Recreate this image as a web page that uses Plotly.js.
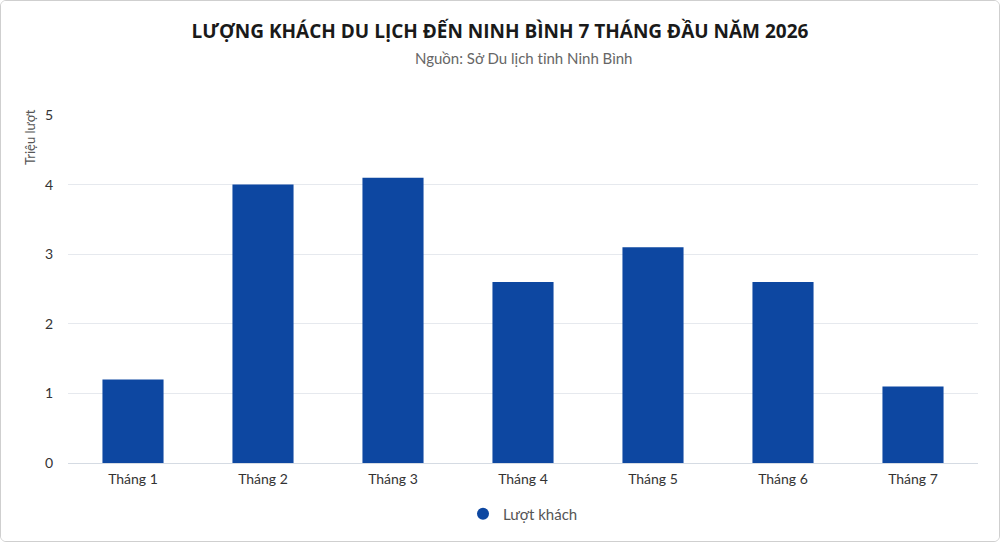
<!DOCTYPE html>
<html>
<head>
<meta charset="utf-8">
<script src="https://cdn.plot.ly/plotly-3.0.1.min.js"></script>
<style>
  html, body { margin: 0; padding: 0; background: #fff; }
  #frame { position: absolute; left: 0; top: 0; width: 1000px; height: 542px; box-sizing: border-box;
           border: 1px solid #cfcfcf; border-radius: 6px; overflow: hidden; }
  #chart { width: 998px; height: 540px; }
</style>
</head>
<body>
<div id="frame"><div id="chart"></div></div>
<script>
const categories = ["Tháng 1", "Tháng 2", "Tháng 3", "Tháng 4", "Tháng 5", "Tháng 6", "Tháng 7"];
const visitors = [1.2, 4.0, 4.1, 2.6, 3.1, 2.6, 1.1];
const yTicks = [0, 1, 2, 3, 4, 5];
const seriesName = "Lượt khách";
const titleText = "LƯỢNG KHÁCH DU LỊCH ĐẾN NINH BÌNH 7 THÁNG ĐẦU NĂM 2026";
const subtitleText = "Nguồn: Sở Du lịch tỉnh Ninh Bình";
const yTitleText = "Triệu lượt";

const barColor = "#0d47a1";
const fontFam = "Lato, 'Open Sans', sans-serif";

const traces = [
  {
    type: "bar",
    x: categories,
    y: visitors,
    marker: { color: barColor },
    width: 0.47,
    showlegend: false,
    hoverinfo: "x+y"
  },
  {
    type: "scatter",
    mode: "markers",
    x: [null],
    y: [null],
    name: seriesName,
    marker: { color: barColor, symbol: "circle", size: 11 },
    showlegend: true
  }
];

const layout = {
  width: 998,
  height: 540,
  margin: { l: 67, r: 21, t: 114, b: 78, autoexpand: false },
  paper_bgcolor: "#ffffff",
  plot_bgcolor: "#ffffff",
  font: { family: fontFam, color: "#333", size: 13 },
  title: {
    text: titleText,
    x: 0.5, xanchor: "center",
    y: 0.943, yanchor: "middle",
    font: { family: "'Open Sans', sans-serif", size: 19, color: "#1a1a1a", weight: 700 }
  },
  xaxis: {
    type: "category",
    showgrid: false,
    showline: true,
    linecolor: "#d5dbe3",
    linewidth: 1,
    ticks: "",
    ticklabelstandoff: 3,
    tickfont: { family: fontFam, size: 14, color: "#333" },
    fixedrange: true
  },
  yaxis: {
    range: [0, 5],
    tickvals: yTicks,
    showgrid: true,
    gridcolor: "#e6e9ee",
    gridwidth: 1,
    zeroline: false,
    showline: false,
    ticks: "",
    ticklabelstandoff: 14,
    tickfont: { family: fontFam, size: 14, color: "#333" },
    fixedrange: true
  },
  showlegend: true,
  legend: {
    orientation: "h",
    x: 0.5, xanchor: "center",
    yref: "container",
    y: 0.05, yanchor: "middle",
    font: { family: fontFam, size: 15, color: "#555" },
    itemsizing: "constant",
    itemwidth: 30
  },
  annotations: [
    {
      text: subtitleText,
      xref: "paper", yref: "paper",
      x: 0.5, xanchor: "center",
      y: 1, yanchor: "bottom",
      yshift: 46,
      showarrow: false,
      font: { family: fontFam, size: 15, color: "#666" }
    },
    {
      text: yTitleText,
      xref: "paper", yref: "paper",
      x: 0, xanchor: "center", xshift: -38,
      y: 1, yanchor: "top", yshift: 8,
      textangle: -90,
      showarrow: false,
      font: { family: fontFam, size: 13, color: "#555" }
    }
  ]
};

Plotly.newPlot("chart", traces, layout, { displayModeBar: false, staticPlot: true });
</script>
</body>
</html>
